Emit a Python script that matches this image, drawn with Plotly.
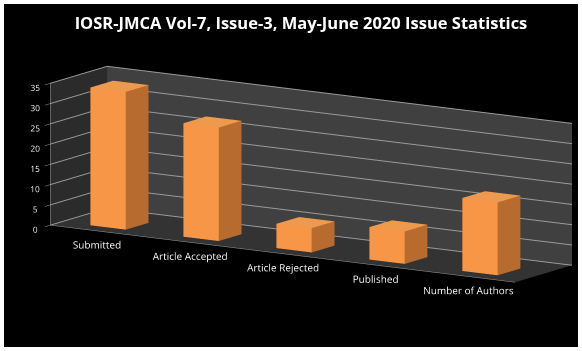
import plotly.graph_objects as go

categories = ["Submitted", "Article Accepted", "Article Rejected", "Published", "Number of Authors"]
values = [34, 28, 6, 8, 18]
z_ticks = [0, 5, 10, 15, 20, 25, 30, 35]

W, H = 582, 351
fig = go.Figure()

FRONT = "#F79646"
SIDE = "#B86B2E"
TOP = "#EE9A4E"

for i, v in enumerate(values):
    x0, x1 = i - 0.19, i + 0.19
    y0, y1 = 0.2, 0.6
    xs = [x0, x1, x1, x0, x0, x1, x1, x0]
    ys = [y0, y0, y1, y1, y0, y0, y1, y1]
    zs = [0, 0, 0, 0, v, v, v, v]
    I = [0, 0, 1, 1, 4, 4, 3, 3, 0, 0, 0, 0]
    J = [1, 5, 2, 6, 5, 6, 7, 6, 4, 7, 3, 2]
    K = [5, 4, 6, 5, 6, 7, 6, 2, 7, 3, 2, 1]
    fc = [FRONT, FRONT, SIDE, SIDE, TOP, TOP, SIDE, SIDE, SIDE, SIDE, SIDE, SIDE]
    fig.add_trace(go.Mesh3d(x=xs, y=ys, z=zs, i=I, j=J, k=K, facecolor=fc,
                            flatshading=True,
                            lighting=dict(ambient=1, diffuse=0, specular=0, fresnel=0, roughness=1),
                            hoverinfo="skip", showscale=False))

# category labels below the front edge of the floor
fig.add_trace(go.Scatter3d(
    x=list(range(len(categories))), y=[0] * len(categories), z=[0] * len(categories),
    mode="text", text=["<br>" + c for c in categories], textposition="bottom center",
    textfont=dict(family="Open Sans", size=10, color="white"), hoverinfo="skip"))

axis_common = dict(showspikes=False, color="white",
                   tickfont=dict(family="Open Sans", size=10, color="white"),
                   title=dict(text=""), zeroline=False)

r = 2.0
e = (0.468, -0.866, 0.174)
s = 1.055

fig.update_layout(
    width=W, height=H,
    margin=dict(l=0, r=0, t=0, b=0),
    paper_bgcolor="white",
    showlegend=False,
    title=dict(text="<b>IOSR-JMCA Vol-7, Issue-3, May-June 2020 Issue Statistics</b>",
               x=301 / W, xanchor="center", y=1 - 23 / H, yanchor="middle",
               font=dict(family="Open Sans", size=16.5, color="white")),
    shapes=[dict(type="rect", xref="paper", yref="paper", layer="below",
                 x0=4 / W, x1=578 / W, y0=1 - 347 / H, y1=1 - 4 / H,
                 fillcolor="black", line=dict(width=0))],
    scene=dict(
        domain=dict(x=[0.0, 1.0], y=[0.1, 0.88]),
        bgcolor="rgba(0,0,0,0)",
        aspectmode="manual",
        aspectratio=dict(x=3.82 * s, y=0.73 * s, z=1.0 * s),
        camera=dict(eye=dict(x=e[0] * r, y=e[1] * r, z=e[2] * r),
                    center=dict(x=-0.126, y=-0.0755, z=-0.036),
                    up=dict(x=0, y=0, z=1), projection=dict(type="orthographic")),
        xaxis=dict(axis_common, range=[-0.5, 4.5], tickvals=list(range(len(categories))),
                   showticklabels=False, showgrid=False, showbackground=True,
                   backgroundcolor="#2b2b2b",
                   showline=True, linecolor="#9a9a9a", ticks=""),
        yaxis=dict(axis_common, range=[0, 1], showticklabels=False, showgrid=False,
                   showbackground=True, backgroundcolor="#404040",
                   showline=False, ticks=""),
        zaxis=dict(axis_common, range=[0, 35], tickvals=z_ticks, tickangle=0, showgrid=True,
                   gridcolor="#9a9a9a", showbackground=True, backgroundcolor="#333333",
                   showline=True, linecolor="#9a9a9a", ticks="outside", tickcolor="#9a9a9a"),
    ),
)

fig.write_html("out.html")
